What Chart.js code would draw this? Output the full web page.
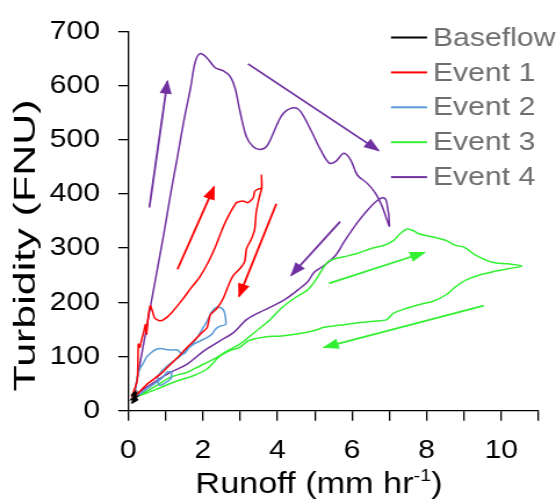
<!DOCTYPE html>
<html>
<head>
<meta charset="utf-8">
<script src="https://cdn.jsdelivr.net/npm/chart.js@4.4.1/dist/chart.umd.min.js"></script>
<style>
  html,body{margin:0;padding:0;background:#fff;overflow:hidden;}
  #wrap{position:absolute;left:0;top:0;width:479px;height:500px;transform:scaleX(1.16075);transform-origin:0 0;}
</style>
</head>
<body>
<div id="wrap"><canvas id="c" width="479" height="500"></canvas></div>
<script>
// ---------- DATA ----------
const seriesLabels = ['Baseflow', 'Event 1', 'Event 2', 'Event 3', 'Event 4'];

const baseflowX = [0.08,0.18,0.12,0.22,0.10,0.20,0.14,0.24,0.16];
const baseflowY = [28,34,18,25,22,30,16,20,27];

const event1X = [0.09,0.24,0.27,0.31,0.35,0.42,0.46,0.49,0.53,0.59,0.65,0.71,0.84,0.95,1.15,1.45,1.70,1.90,2.15,2.35,2.55,2.73,2.90,3.08,3.21,3.35,3.39,3.48,3.57,3.57,3.58,3.52,3.43,3.39,3.30,3.17,3.12,2.99,2.82,2.69,2.55,2.38,2.20,2.11,1.93,1.76,1.58,1.32,1.05,0.87,0.52,0.26,0.13];
const event1Y = [25,56,123,117,129,147,159,141,171,194,183,171,166,168,180,205,228,245,275,305,340,365,384,387,384,393,405,409,411,435,411,396,366,335,317,299,275,262,250,232,208,189,177,153,141,129,117,98,80,68,50,32,22];

const event2X = [0.12,0.20,0.26,0.33,0.39,0.48,0.61,0.74,0.87,1.00,1.14,1.32,1.45,1.54,1.67,1.85,1.98,2.11,2.24,2.37,2.48,2.55,2.60,2.61,2.46,2.33,2.24,2.11,1.93,1.76,1.58,1.40,1.23,1.05,0.87,0.79,0.83,0.96,1.14,1.16,1.05,0.90,0.70,0.50,0.30,0.15];
const event2Y = [22,45,68,80,86,98,107,113,115,113,112,112,104,108,120,135,150,165,183,191,190,186,175,159,156,150,141,135,129,123,114,101,92,83,71,62,47,50,59,71,72,60,50,40,30,24];

const event3X = [0.15,0.50,0.70,1.14,1.58,1.93,2.29,2.64,2.99,3.43,3.80,4.10,4.46,4.81,4.99,5.16,5.34,5.52,5.78,6.13,6.49,6.84,7.11,7.28,7.46,7.64,7.81,8.08,8.52,8.78,9.00,9.31,9.75,10.19,10.55,10.19,9.75,9.40,9.05,8.78,8.52,8.17,7.81,7.46,7.11,6.93,6.58,6.13,5.69,5.25,4.99,4.55,4.10,3.66,3.22,2.99,2.73,2.46,2.11,1.76,1.23,0.70,0.30,0.15];
const event3Y = [24,36,44,62,71,83,95,110,123,147,168,189,208,223,238,256,274,280,284,290,299,305,314,326,335,332,326,322,314,305,302,287,274,271,267,262,256,250,241,229,214,202,196,189,180,168,165,162,158,154,148,142,138,136,129,117,111,101,77,65,53,38,28,24];

const event4X = [0.15,0.62,0.96,1.14,1.32,1.49,1.67,1.80,1.93,2.11,2.33,2.55,2.73,2.86,2.99,3.17,3.35,3.52,3.70,3.88,4.02,4.19,4.46,4.63,4.90,5.16,5.39,5.56,5.78,5.96,6.14,6.40,6.62,6.80,6.93,7.00,6.93,6.84,6.66,6.40,6.14,5.78,5.56,5.25,4.99,4.81,4.55,4.19,3.75,3.53,3.17,2.82,2.46,2.02,1.58,1.14,0.70,0.26,0.12];
const event4Y = [25,202,329,402,469,535,596,645,659,651,633,627,617,596,554,505,487,482,487,511,533,551,559,551,517,481,457,460,475,463,435,420,402,378,353,341,384,393,387,369,347,311,287,268,256,238,223,205,189,182,168,144,129,110,86,71,53,32,23];

// direction arrows: start -> tip (data units)
const arrowSeries = [4,4,4,1,1,3,3];
const arrowStartX = [0.566,3.21,5.68,1.32,3.97,5.38,9.53];
const arrowStartY = [375,640,349,261,382,235,194];
const arrowTipX   = [1.05,6.71,4.37,2.30,2.97,7.94,5.25];
const arrowTipY   = [608,480,250,413,211,292,117];

const xTicksMin = 0, xTicksMax = 11, xStep = 1;
const yTicksMin = 0, yTicksMax = 700, yStep = 100;

const xTitle = 'Runoff (mm hr';
const xTitleSup = '-1';
const xTitleEnd = ')';
const yTitle = 'Turbidity (FNU)';

// ---------- STYLE ----------
const colors = ['#000000', '#ff0000', '#5b9bd5', '#33f033', '#7030a0'];
const tensions = [0, 0.2, 0.2, 0.3, 0.35];
const FONT = '"Liberation Sans", Arial, sans-serif';

function pts(xs, ys){ return xs.map((x,i)=>({x:x, y:ys[i]})); }
const seriesX = [baseflowX, event1X, event2X, event3X, event4X];
const seriesY = [baseflowY, event1Y, event2Y, event3Y, event4Y];

const datasets = seriesLabels.map((lab,i)=>({
  label: lab,
  data: pts(seriesX[i], seriesY[i]),
  borderColor: colors[i],
  backgroundColor: colors[i],
  borderWidth: i===0 ? 1.8 : 1.5,
  showLine: true,
  pointRadius: 0,
  tension: tensions[i],
  fill: false
}));
arrowSeries.forEach((s,i)=>{
  datasets.push({
    label: '',
    isArrow: true,
    data: [{x:arrowStartX[i], y:arrowStartY[i]}, {x:arrowTipX[i], y:arrowTipY[i]}],
    borderColor: colors[s],
    backgroundColor: colors[s],
    borderWidth: 1.8,
    showLine: true,
    pointRadius: 0,
    tension: 0
  });
});

const arrowHeads = {
  id: 'arrowHeads',
  afterDatasetsDraw(chart){
    const ctx = chart.ctx;
    chart.data.datasets.forEach((ds,i)=>{
      if(!ds.isArrow) return;
      const p = chart.getDatasetMeta(i).data;
      const a = p[0], b = p[1];
      const ang = Math.atan2(b.y-a.y, b.x-a.x);
      const L = 12.5, W = 5.2;
      const c = Math.cos(ang), s = Math.sin(ang);
      ctx.save();
      ctx.fillStyle = ds.borderColor;
      ctx.beginPath();
      ctx.moveTo(b.x + 1.5*c, b.y + 1.5*s);
      ctx.lineTo(b.x - L*c + W*s, b.y - L*s - W*c);
      ctx.lineTo(b.x - L*c - W*s, b.y - L*s + W*c);
      ctx.closePath();
      ctx.fill();
      ctx.restore();
    });
  }
};

const titlesAndLegend = {
  id: 'titlesAndLegend',
  afterDraw(chart){
    const ctx = chart.ctx;
    ctx.save();
    // X title
    ctx.fillStyle = '#000';
    ctx.textBaseline = 'alphabetic';
    ctx.textAlign = 'left';
    ctx.font = '29.5px ' + FONT;
    const w1 = ctx.measureText(xTitle).width;
    const w3 = ctx.measureText(xTitleEnd).width;
    ctx.font = '17px ' + FONT;
    const w2 = ctx.measureText(xTitleSup).width;
    const total = w1 + w2 + w3;
    let x0 = 274.8 - total/2;
    ctx.font = '29.5px ' + FONT;
    ctx.fillText(xTitle, x0, 493);
    ctx.font = '17px ' + FONT;
    ctx.fillText(xTitleSup, x0 + w1, 481);
    ctx.font = '29.5px ' + FONT;
    ctx.fillText(xTitleEnd, x0 + w1 + w2, 493);

    // Y title (rotated)
    ctx.font = '26.5px ' + FONT;
    const wy = ctx.measureText(yTitle).width;
    ctx.save();
    ctx.translate(30.2, 245.5);
    ctx.rotate(-Math.PI/2);
    ctx.scale(292/wy, 1);
    ctx.textAlign = 'center';
    ctx.fillText(yTitle, 0, 0);
    ctx.restore();

    // Legend
    ctx.font = '26px ' + FONT;
    ctx.textAlign = 'left';
    ctx.textBaseline = 'middle';
    for(let i=0;i<seriesLabels.length;i++){
      const y = 37.5 + 34.9*i;
      ctx.strokeStyle = colors[i];
      ctx.lineWidth = 2;
      ctx.beginPath();
      ctx.moveTo(336.8, y);
      ctx.lineTo(367.9, y);
      ctx.stroke();
      ctx.fillStyle = '#6e6e6e';
      ctx.fillText(seriesLabels[i], 373, y + 1);
    }
    ctx.restore();
  }
};

new Chart(document.getElementById('c'), {
  type: 'scatter',
  data: { datasets: datasets },
  options: {
    responsive: false,
    animation: false,
    devicePixelRatio: 1,
    layout: { padding: { left: 0, right: 11, top: 26, bottom: 0 } },
    plugins: { legend: { display: false }, tooltip: { enabled: false } },
    scales: {
      x: {
        type: 'linear',
        min: xTicksMin, max: xTicksMax,
        afterFit(s){ s.height = 89.3; },
        ticks: {
          stepSize: xStep, autoSkip: false, maxRotation: 0,
          callback: v => (v % 2 === 0 ? String(v) : ''),
          color: '#000', padding: 15,
          font: { family: FONT, size: 26 }
        },
        grid: { drawOnChartArea: false, drawTicks: true, tickLength: 10, color: '#000', lineWidth: 1.3 },
        border: { display: true, color: '#000', width: 1.3 }
      },
      y: {
        type: 'linear',
        min: yTicksMin, max: yTicksMax,
        afterFit(s){ s.width = 110.5; },
        ticks: {
          stepSize: yStep, autoSkip: false,
          color: '#000', padding: 15.8,
          font: { family: FONT, size: 26 }
        },
        grid: { drawOnChartArea: false, drawTicks: true, tickLength: 8.6, color: '#000', lineWidth: 1.3 },
        border: { display: true, color: '#000', width: 1.3 }
      }
    }
  },
  plugins: [arrowHeads, titlesAndLegend]
});
</script>
</body>
</html>
